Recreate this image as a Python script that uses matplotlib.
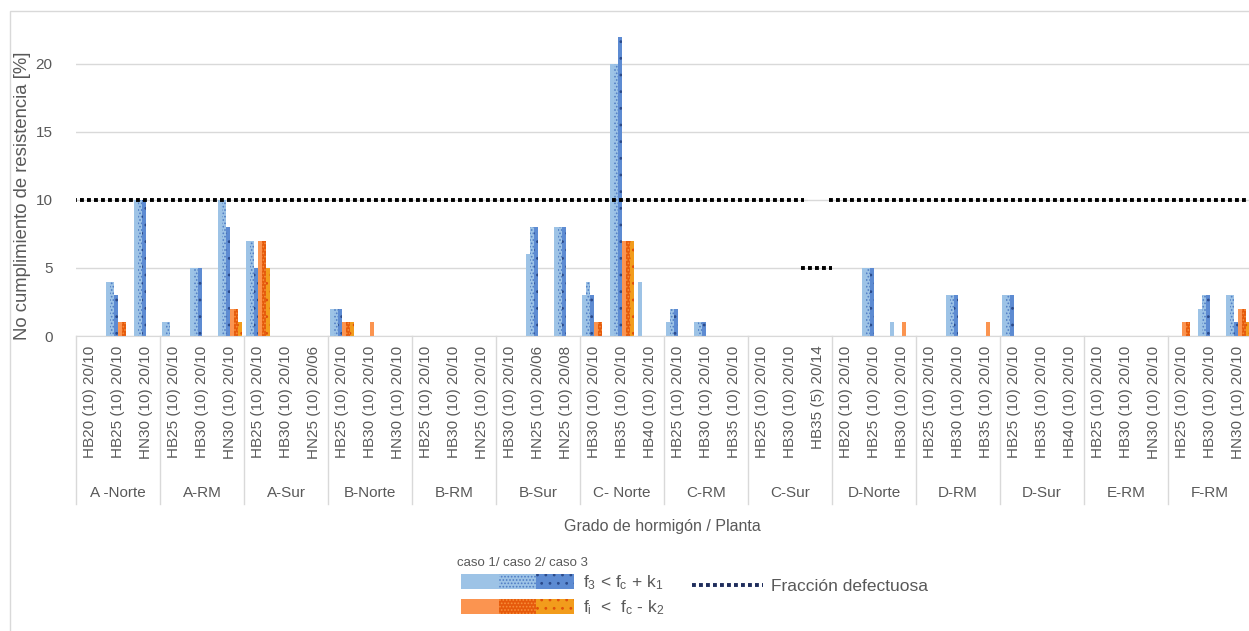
import numpy as np
import matplotlib.pyplot as plt
from matplotlib.legend_handler import HandlerTuple
from matplotlib.lines import Line2D
from matplotlib.patches import Rectangle
import matplotlib.transforms as mtransforms

# ---------------- estilo ----------------
plt.rcParams['font.family'] = ['Liberation Sans', 'DejaVu Sans']
plt.rcParams['mathtext.fontset'] = 'custom'
plt.rcParams['mathtext.rm'] = 'Liberation Sans'
plt.rcParams['mathtext.it'] = 'Liberation Sans:italic'
plt.rcParams['hatch.linewidth'] = 0.8

GRIS = '#595959'
LINEA = '#d9d9d9'

# ---------------- datos ----------------
plantas = ['A -Norte', 'A-RM', 'A-Sur', 'B-Norte', 'B-RM', 'B-Sur', 'C- Norte',
           'C-RM', 'C-Sur', 'D-Norte', 'D-RM', 'D-Sur', 'E-RM', 'F-RM']

grados = [
    'HB20 (10) 20/10', 'HB25 (10) 20/10', 'HN30 (10) 20/10',
    'HB25 (10) 20/10', 'HB30 (10) 20/10', 'HN30 (10) 20/10',
    'HB25 (10) 20/10', 'HB30 (10) 20/10', 'HN25 (10) 20/06',
    'HB25 (10) 20/10', 'HB30 (10) 20/10', 'HN30 (10) 20/10',
    'HB25 (10) 20/10', 'HB30 (10) 20/10', 'HN25 (10) 20/10',
    'HB30 (10) 20/10', 'HN25 (10) 20/06', 'HN25 (10) 20/08',
    'HB30 (10) 20/10', 'HB35 (10) 20/10', 'HB40 (10) 20/10',
    'HB25 (10) 20/10', 'HB30 (10) 20/10', 'HB35 (10) 20/10',
    'HB25 (10) 20/10', 'HB30 (10) 20/10', 'HB35 (5) 20/14',
    'HB20 (10) 20/10', 'HB25 (10) 20/10', 'HB30 (10) 20/10',
    'HB25 (10) 20/10', 'HB30 (10) 20/10', 'HB35 (10) 20/10',
    'HB25 (10) 20/10', 'HB35 (10) 20/10', 'HB40 (10) 20/10',
    'HB25 (10) 20/10', 'HB30 (10) 20/10', 'HN30 (10) 20/10',
    'HB25 (10) 20/10', 'HB30 (10) 20/10', 'HN30 (10) 20/10',
]

# f3 < fc + k1 (azul), caso 1 / 2 / 3
f3_caso1 = [0, 4, 10, 1, 5, 10, 7, 0, 0, 2, 0, 0, 0, 0, 0, 0, 6, 8, 3, 20, 4,
            1, 1, 0, 0, 0, 0, 0, 5, 1, 0, 3, 0, 3, 0, 0, 0, 0, 0, 0, 2, 3]
f3_caso2 = [0, 4, 10, 1, 5, 10, 7, 0, 0, 2, 0, 0, 0, 0, 0, 0, 8, 8, 4, 20, 0,
            2, 1, 0, 0, 0, 0, 0, 5, 0, 0, 3, 0, 3, 0, 0, 0, 0, 0, 0, 3, 3]
f3_caso3 = [0, 3, 10, 0, 5, 8, 5, 0, 0, 2, 0, 0, 0, 0, 0, 0, 8, 8, 3, 22, 0,
            2, 1, 0, 0, 0, 0, 0, 5, 0, 0, 3, 0, 3, 0, 0, 0, 0, 0, 0, 3, 1]
# fi < fc - k2 (naranjo), caso 1 / 2 / 3
fi_caso1 = [0, 1, 0, 0, 0, 2, 7, 0, 0, 1, 1, 0, 0, 0, 0, 0, 0, 0, 1, 7, 0,
            0, 0, 0, 0, 0, 0, 0, 0, 1, 0, 0, 1, 0, 0, 0, 0, 0, 0, 1, 0, 2]
fi_caso2 = [0, 1, 0, 0, 0, 2, 7, 0, 0, 1, 0, 0, 0, 0, 0, 0, 0, 0, 1, 7, 0,
            0, 0, 0, 0, 0, 0, 0, 0, 0, 0, 0, 0, 0, 0, 0, 0, 0, 0, 1, 0, 2]
fi_caso3 = [0, 0, 0, 0, 0, 1, 5, 0, 0, 1, 0, 0, 0, 0, 0, 0, 0, 0, 0, 7, 0,
            0, 0, 0, 0, 0, 0, 0, 0, 0, 0, 0, 0, 0, 0, 0, 0, 0, 0, 0, 0, 1]

# fraccion defectuosa [%]
fraccion = [10, 10, 10, 10, 10, 10, 10, 10, 10, 10, 10, 10, 10, 10, 10, 10, 10, 10, 10, 10, 10,
            10, 10, 10, 10, 10, 5, 10, 10, 10, 10, 10, 10, 10, 10, 10, 10, 10, 10, 10, 10, 10]

# ---------------- figura ----------------
W, H = 1249, 631
fig = plt.figure(figsize=(W / 100, H / 100), dpi=100)
x0, x1, yb, yt = 76, 1252, 336, 23
ax = fig.add_axes([x0 / W, (H - yb) / H, (x1 - x0) / W, (yb - yt) / H])

x = np.arange(len(grados))
w = 0.139
series = [
    (f3_caso1, dict(color='#9dc3e6')),
    (f3_caso2, dict(facecolor='#9dc3e6', edgecolor='#4f7cc4', hatch='.....')),
    (f3_caso3, dict(facecolor='#5d8bd2', edgecolor='#2b4a8a', hatch='..')),
    (fi_caso1, dict(color='#fb9450')),
    (fi_caso2, dict(facecolor='#e65a0c', edgecolor='#f8903a', hatch='.....')),
    (fi_caso3, dict(facecolor='#f29c1c', edgecolor='#e0500a', hatch='..')),
]
barras = []
for k, (vals, st) in enumerate(series):
    b = ax.bar(x + (k - 2.5) * w, vals, width=w, linewidth=0, zorder=2, **st)
    barras.append(b)

# linea fraccion defectuosa (tramos por categoria)
frac = np.array(fraccion)
inicio = 0
for i in range(1, len(frac) + 1):
    if i == len(frac) or frac[i] != frac[inicio]:
        ax.plot([inicio - 0.6, i - 0.5], [frac[inicio], frac[inicio]], color='black',
                lw=2.8, linestyle=(0, (1, 0.8)), zorder=3, solid_capstyle='butt')
        inicio = i

ax.set_xlim(-0.5, len(grados) - 0.5)
ax.set_ylim(0, 23)
ax.set_yticks([0, 5, 10, 15, 20])
ax.yaxis.grid(True, color=LINEA, lw=1)
ax.set_axisbelow(True)
for s in ['top', 'right', 'left']:
    ax.spines[s].set_visible(False)
ax.spines['bottom'].set_color(LINEA)
ax.tick_params(axis='y', length=0, pad=17, labelsize=11, labelcolor=GRIS)
ax.set_xticks(x)
ax.set_xticklabels(grados, rotation=90, fontsize=11, color=GRIS)
ax.tick_params(axis='x', length=0, pad=7)
ax.set_ylabel('No cumplimiento de resistencia [%]', fontsize=13.3, color=GRIS)
ax.yaxis.set_label_coords(-(x0 - 31) / (x1 - x0), (yb - 196) / (yb - yt))

# etiquetas de planta y separadores
trans = mtransforms.blended_transform_factory(ax.transData, ax.transAxes)
ax_h = yb - yt
for g, nombre in enumerate(plantas):
    ax.text(3 * g + 1, -(493 - yb) / ax_h, nombre, transform=trans, ha='center',
            va='center', fontsize=11, color=GRIS)
for g in range(len(plantas) + 1):
    ax.plot([3 * g - 0.5, 3 * g - 0.5], [0, -(504 - yb) / ax_h], transform=trans,
            color=LINEA, lw=1, clip_on=False)

fig.text(662 / W, 1 - 526 / H, 'Grado de hormigón / Planta', ha='center', va='center',
         fontsize=11.5, color=GRIS)

# leyendas
fs = 12.5
fig.text(457 / W, 1 - 563 / H, 'caso 1/ caso 2/ caso 3', ha='left', va='center',
         fontsize=9.5, color=GRIS)
h1 = (barras[0], barras[1], barras[2])
h2 = (barras[3], barras[4], barras[5])
fig.legend([h1, h2],
           [r'f$_{\mathrm{3}}$ < f$_{\mathrm{c}}$ + k$_{\mathrm{1}}$',
            r'f$_{\mathrm{i}}$  <  f$_{\mathrm{c}}$ - k$_{\mathrm{2}}$'],
           handler_map={tuple: HandlerTuple(ndivide=None, pad=0)},
           loc='upper left', bbox_to_anchor=(449 / W, 1 - 561 / H),
           frameon=False, fontsize=fs, handlelength=6.5, handleheight=0.95,
           handletextpad=0.5, labelspacing=0.4, borderpad=0.2,
           labelcolor=GRIS)
lin = Line2D([], [], color='#1f2d5c', lw=2.8, linestyle=(0, (1, 0.8)))
fig.legend([lin], ['Fracción defectuosa'], loc='center left',
           bbox_to_anchor=(676 / W, 1 - 586 / H), frameon=False, fontsize=fs,
           handlelength=4.1, handletextpad=0.5, labelcolor=GRIS)

# borde del grafico
fig.add_artist(Rectangle((10 / W, -0.05), 1.2, 1.05 - 11 / H, transform=fig.transFigure,
                         fill=False, edgecolor=LINEA, lw=1))

fig.savefig('out.png', dpi=100)
